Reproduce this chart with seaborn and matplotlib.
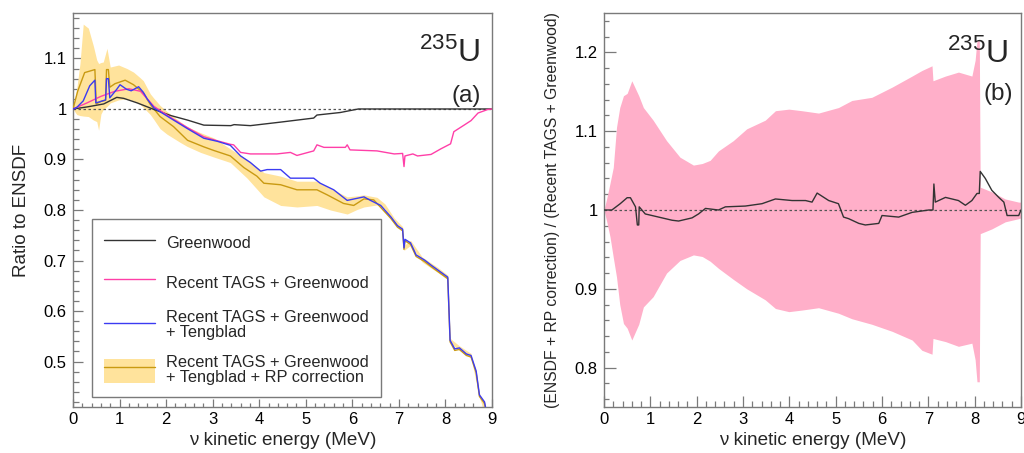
import matplotlib
matplotlib.use("Agg")
import matplotlib.pyplot as plt
import pandas as pd
import seaborn as sns
from matplotlib.lines import Line2D
from matplotlib.patches import Patch
from matplotlib.ticker import MultipleLocator, FuncFormatter

# ---------------- Panel (a): ratio to ENSDF ----------------
gw_E = [0, 0.3, 0.66, 0.94, 1.09, 1.38, 1.74, 2.1, 2.46, 2.81, 3.39, 3.46, 3.81, 4.46, 5.17, 5.24, 5.74, 6.13, 9.0]
gw_v = [1.0, 1.004, 1.01, 1.023, 1.021, 1.012, 0.999, 0.987, 0.978, 0.968, 0.967, 0.969, 0.967, 0.974, 0.982, 0.988, 0.993, 1.0, 1.0]

tags_E = [0, 0.3, 0.6, 0.9, 1.2, 1.45, 1.74, 2.1, 2.46, 2.81, 3.1, 3.38, 3.45, 3.6, 3.81, 4.38, 4.67, 4.81, 5.17, 5.24,
          5.39, 5.85, 5.89, 5.95, 6.53, 6.9, 7.08, 7.11, 7.13, 7.3, 7.4, 7.69, 7.9, 8.11, 8.18, 8.4, 8.55, 8.7, 8.91, 9.0]
tags_v = [1.0, 1.012, 1.025, 1.035, 1.04, 1.035, 1.005, 0.983, 0.963, 0.945, 0.937, 0.93, 0.929, 0.914, 0.911, 0.911, 0.914, 0.908, 0.917, 0.929,
          0.924, 0.924, 0.929, 0.919, 0.917, 0.911, 0.912, 0.886, 0.907, 0.911, 0.907, 0.91, 0.921, 0.931, 0.955, 0.968, 0.977, 0.992, 0.999, 1.0]

teng_E = [0, 0.08, 0.22, 0.36, 0.47, 0.49, 0.6, 0.7, 0.72, 0.76, 0.79, 0.94, 1.01, 1.15, 1.25, 1.41, 1.51, 1.6, 1.74, 2.09,
          2.46, 2.81, 3.1, 3.38, 3.6, 3.81, 4.03, 4.17, 4.46, 4.67, 5.17, 5.31, 5.6, 5.89, 6.25, 6.39, 6.61, 6.83, 6.97, 7.08,
          7.11, 7.13, 7.25, 7.37, 7.55, 7.69, 7.84, 8.05, 8.1, 8.2, 8.3, 8.45, 8.55, 8.66, 8.73, 8.84, 8.9]
teng_v = [1.0, 1.003, 1.016, 1.046, 1.057, 1.012, 1.015, 1.018, 1.06, 1.06, 1.022, 1.039, 1.048, 1.039, 1.036, 1.044, 1.033, 1.019, 1.002, 0.982,
          0.961, 0.942, 0.936, 0.928, 0.907, 0.894, 0.877, 0.880, 0.880, 0.863, 0.863, 0.853, 0.84, 0.819, 0.826, 0.819, 0.809, 0.786, 0.769, 0.762,
          0.725, 0.742, 0.735, 0.711, 0.701, 0.691, 0.681, 0.667, 0.542, 0.525, 0.527, 0.515, 0.512, 0.481, 0.434, 0.42, 0.39]

rp_E = [0, 0.1, 0.25, 0.47, 0.5, 0.6, 0.7, 0.72, 0.76, 0.79, 0.9, 1.12, 1.3, 1.51, 1.66, 1.87, 2.16, 2.46, 2.81, 3.02,
        3.38, 3.67, 3.95, 4.1, 4.46, 4.81, 5.24, 5.46, 5.81, 6.03, 6.25, 6.46, 6.61, 6.83, 6.97, 7.08, 7.11, 7.13, 7.25, 7.37,
        7.55, 7.69, 7.84, 8.05, 8.1, 8.2, 8.3, 8.45, 8.55, 8.66, 8.73, 8.84, 8.9]
rp_v = [1.0, 1.035, 1.072, 1.078, 1.01, 1.015, 1.017, 1.078, 1.078, 1.043, 1.05, 1.057, 1.048, 1.032, 1.009, 0.985, 0.965, 0.938, 0.925, 0.918,
        0.907, 0.884, 0.867, 0.853, 0.85, 0.84, 0.84, 0.83, 0.813, 0.809, 0.822, 0.82, 0.805, 0.783, 0.766, 0.759, 0.722, 0.739, 0.732, 0.708,
        0.698, 0.688, 0.678, 0.664, 0.539, 0.522, 0.524, 0.512, 0.509, 0.478, 0.431, 0.417, 0.387]

rp_band_E = [0, 0.08, 0.15, 0.22, 0.33, 0.44, 0.51, 0.55, 0.6, 0.65, 0.73, 0.8, 0.98, 1.16, 1.3, 1.44, 1.51, 1.66, 1.73, 1.87,
             2.02, 2.3, 2.45, 2.74, 3.02, 3.38, 3.74, 4.1, 4.46, 4.81, 5.24, 5.53, 5.89, 6.1, 6.25, 6.53, 6.7, 6.9, 7.08, 7.11,
             7.25, 7.5, 7.84, 8.05, 8.1, 8.3, 8.55, 8.73, 8.9, 9.0]
rp_band_hi = [1.0, 1.04, 1.09, 1.168, 1.16, 1.124, 1.097, 1.09, 1.092, 1.093, 1.12, 1.083, 1.087, 1.08, 1.073, 1.062, 1.056, 1.03, 1.022, 1.007,
              0.995, 0.975, 0.965, 0.953, 0.943, 0.921, 0.90, 0.874, 0.867, 0.857, 0.857, 0.843, 0.826, 0.828, 0.83, 0.825, 0.812, 0.784, 0.767, 0.73,
              0.74, 0.707, 0.686, 0.671, 0.546, 0.531, 0.516, 0.438, 0.395, 0.38]
rp_band_lo = [1.0, 0.989, 0.987, 0.986, 0.985, 0.978, 0.975, 0.958, 0.99, 0.999, 1.005, 1.012, 1.018, 1.02, 1.016, 1.009, 1.003, 0.989, 0.98, 0.961,
              0.95, 0.934, 0.926, 0.914, 0.905, 0.894, 0.863, 0.826, 0.809, 0.806, 0.809, 0.80, 0.792, 0.801, 0.806, 0.81, 0.802, 0.775, 0.757, 0.72,
              0.73, 0.697, 0.676, 0.662, 0.537, 0.522, 0.507, 0.428, 0.385, 0.37]

legend_labels = ["Greenwood",
                 "Recent TAGS + Greenwood",
                 "Recent TAGS + Greenwood\n+ Tengblad",
                 "Recent TAGS + Greenwood\n+ Tengblad + RP correction"]

# ---------------- Panel (b): (ENSDF + RP) / (TAGS + Greenwood) ----------------
ratio_E = [0, 0.17, 0.35, 0.5, 0.57, 0.68, 0.72, 0.75, 0.76, 0.89, 1.18, 1.47, 1.61, 1.9, 2.04, 2.19, 2.47, 2.62, 3.05, 3.41,
           3.7, 4.06, 4.35, 4.49, 4.6, 4.85, 5.06, 5.17, 5.28, 5.5, 5.64, 5.93, 6.0, 6.36, 6.65, 7.01, 7.1, 7.12, 7.15, 7.37,
           7.65, 7.8, 7.94, 8.05, 8.1, 8.12, 8.23, 8.37, 8.52, 8.63, 8.7, 8.95, 9.0]
ratio_v = [1.0, 1.0, 1.008, 1.0156, 1.0156, 1.004, 0.981, 0.981, 1.004, 0.995, 0.991, 0.987, 0.986, 0.99, 0.995, 1.002, 1.0, 1.004, 1.005, 1.008,
           1.014, 1.012, 1.012, 1.01, 1.0215, 1.012, 1.008, 0.991, 0.989, 0.983, 0.981, 0.983, 0.993, 0.991, 0.997, 1.0, 1.0, 1.033, 1.01, 1.016,
           1.012, 1.006, 1.012, 1.021, 1.021, 1.049, 1.04, 1.025, 1.016, 1.01, 0.993, 0.993, 1.0]

rb_E = [0, 0.06, 0.13, 0.2, 0.27, 0.34, 0.42, 0.5, 0.6, 0.75, 0.85, 1.06, 1.35, 1.64, 1.93, 2.12, 2.29, 2.47, 2.79, 3.08,
        3.48, 3.7, 3.99, 4.27, 4.63, 5.06, 5.35, 5.78, 6.22, 6.65, 6.86, 7.08, 7.1, 7.37, 7.65, 7.94, 8.01, 8.05, 8.1, 8.12,
        8.37, 8.66, 8.95, 9.0]
rb_hi = [1.0, 1.015, 1.034, 1.054, 1.105, 1.13, 1.145, 1.148, 1.164, 1.145, 1.13, 1.114, 1.088, 1.067, 1.057, 1.059, 1.063, 1.075, 1.088, 1.103,
         1.114, 1.126, 1.128, 1.126, 1.123, 1.13, 1.139, 1.143, 1.156, 1.17, 1.177, 1.183, 1.164, 1.17, 1.175, 1.17, 1.19, 1.215, 1.215, 1.029,
         1.023, 1.014, 1.01, 1.01]
rb_lo = [1.0, 0.985, 0.966, 0.94, 0.915, 0.88, 0.856, 0.85, 0.835, 0.855, 0.877, 0.89, 0.92, 0.936, 0.943, 0.941, 0.935, 0.926, 0.912, 0.9,
         0.886, 0.875, 0.871, 0.873, 0.876, 0.869, 0.862, 0.855, 0.846, 0.835, 0.822, 0.817, 0.837, 0.833, 0.827, 0.831, 0.81, 0.782, 0.782, 0.97,
         0.976, 0.985, 0.989, 0.99]

# ---------------- Styling ----------------
sns.set_theme(style="ticks")
plt.rcParams["font.family"] = ["Liberation Sans", "DejaVu Sans"]
plt.rcParams["mathtext.fontset"] = "custom"
plt.rcParams["mathtext.rm"] = "Liberation Sans"
plt.rcParams["mathtext.it"] = "Liberation Sans:italic"
plt.rcParams["mathtext.bf"] = "Liberation Sans:bold"

C_BLACK = "#333333"
C_PINK = "#FF3FA8"
C_BLUE = "#3B3BF2"
C_GOLD = "#C99A12"
C_YELLOW = "#FFE39C"
C_PINKBAND = "#FFAFC9"
C_FRAME = "#7a7a7a"

fig = plt.figure(figsize=(10.24, 4.53), dpi=100)
ax1 = fig.add_axes([73 / 1024, 46 / 453, 419 / 1024, 394 / 453])
ax2 = fig.add_axes([604 / 1024, 46 / 453, 417 / 1024, 394 / 453])


def draw_line(ax, E, v, color, lw=1.0, z=3):
    df = pd.DataFrame({"E": E, "v": v})
    sns.lineplot(data=df, x="E", y="v", ax=ax, color=color, lw=lw,
                 estimator=None, sort=False, zorder=z, legend=False)


def style_axes(ax, xmaj, xmin, ymaj, ymin):
    for s in ax.spines.values():
        s.set_color(C_FRAME)
        s.set_linewidth(1.0)
        s.set_visible(True)
    ax.xaxis.set_major_locator(MultipleLocator(1))
    ax.xaxis.set_minor_locator(MultipleLocator(0.2))
    ax.yaxis.set_major_locator(MultipleLocator(0.1))
    ax.yaxis.set_minor_locator(MultipleLocator(0.02))
    fmt = FuncFormatter(lambda val, pos: f"{val:g}")
    ax.yaxis.set_major_formatter(fmt)
    ax.xaxis.set_major_formatter(fmt)
    ax.tick_params(axis="both", which="both", direction="in", color=C_FRAME,
                   width=0.9, labelsize=12, labelcolor="black",
                   top=False, right=False)
    ax.tick_params(axis="x", which="major", length=xmaj, pad=3.6)
    ax.tick_params(axis="x", which="minor", length=xmin)
    ax.tick_params(axis="y", which="major", length=ymaj, pad=4.5)
    ax.tick_params(axis="y", which="minor", length=ymin)


# ---- panel (a)
ax1.fill_between(rp_band_E, rp_band_lo, rp_band_hi, color=C_YELLOW, lw=0, zorder=1)
ax1.axhline(1.0, color="#555555", lw=0.9, ls=(0, (2, 2)), zorder=2)
draw_line(ax1, rp_E, rp_v, C_GOLD, 1.0, 3)
draw_line(ax1, gw_E, gw_v, C_BLACK, 1.0, 4)
draw_line(ax1, tags_E, tags_v, C_PINK, 1.0, 5)
draw_line(ax1, teng_E, teng_v, C_BLUE, 1.0, 6)
ax1.set_xlim(0, 9)
ax1.set_ylim(0.41, 1.19)
style_axes(ax1, 5.8, 2.9, 7.2, 4.3)
ax1.set_xlabel("ν kinetic energy (MeV)", fontsize=13.6)
ax1.set_ylabel("Ratio to ENSDF", fontsize=13.6)
ax1.xaxis.set_label_coords(0.5, -0.064)
ax1.yaxis.set_label_coords(-0.102, 0.5)
ax1.text(0.971, 0.876, r"$^{235}$U", transform=ax1.transAxes, ha="right", va="baseline", fontsize=23)
ax1.text(0.974, 0.774, "(a)", transform=ax1.transAxes, ha="right", va="baseline", fontsize=17.5)

handles = [Line2D([], [], color=C_BLACK, lw=1.0),
           Line2D([], [], color=C_PINK, lw=1.0),
           Line2D([], [], color=C_BLUE, lw=1.0),
           (Patch(facecolor=C_YELLOW, edgecolor="none"), Line2D([], [], color=C_GOLD, lw=1.0))]
leg = ax1.legend(handles, legend_labels, loc="lower left", bbox_to_anchor=(0.045, 0.025),
                 borderaxespad=0, fontsize=11.8, frameon=True, fancybox=False,
                 edgecolor=C_FRAME, framealpha=1, borderpad=0.75, labelspacing=0.95,
                 handlelength=3.1, handleheight=1.9, handletextpad=0.7)
leg.get_frame().set_linewidth(1.0)
for t in leg.get_texts():
    t.set_linespacing(0.95)
leg.set_zorder(10)

# ---- panel (b)
ax2.fill_between(rb_E, rb_lo, rb_hi, color=C_PINKBAND, lw=0, zorder=1)
ax2.axhline(1.0, color="#555555", lw=0.9, ls=(0, (2, 2)), zorder=2)
draw_line(ax2, ratio_E, ratio_v, C_BLACK, 1.0, 4)
ax2.set_xlim(0, 9)
ax2.set_ylim(0.75, 1.25)
style_axes(ax2, 8.0, 4.3, 8.6, 3.6)
ax2.set_xlabel("ν kinetic energy (MeV)", fontsize=13.6)
ax2.set_ylabel("(ENSDF + RP correction) / (Recent TAGS + Greenwood)", fontsize=11.3)
ax2.xaxis.set_label_coords(0.5, -0.064)
ax2.yaxis.set_label_coords(-0.105, 0.5)
ax2.text(0.969, 0.873, r"$^{235}$U", transform=ax2.transAxes, ha="right", va="baseline", fontsize=23)
ax2.text(0.981, 0.779, "(b)", transform=ax2.transAxes, ha="right", va="baseline", fontsize=17.5)

fig.savefig("out.png", dpi=100)
